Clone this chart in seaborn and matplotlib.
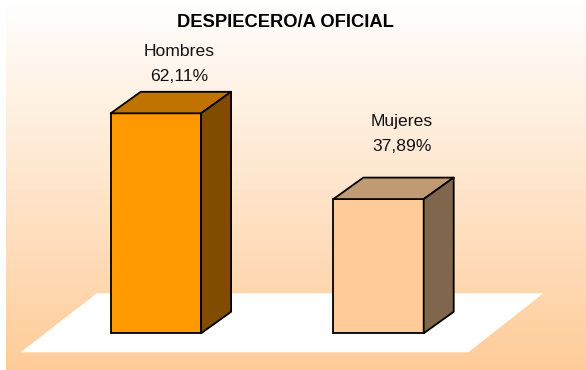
import numpy as np
import pandas as pd
import matplotlib
matplotlib.use("Agg")
import matplotlib.pyplot as plt
import seaborn as sns
from matplotlib.patches import Polygon
from matplotlib.colors import to_rgb

# ---- data ----
categories = ["Hombres", "Mujeres"]
percentages = [62.11, 37.89]
value_labels = ["62,11%", "37,89%"]
chart_title = "DESPIECERO/A OFICIAL"

# ---- styling ----
front_colors = ["#FF9900", "#FFCC99"]
top_colors = ["#C07300", "#C09A73"]
side_colors = ["#7F4C00", "#80664C"]
label_lift_px = [32, 48]          # gap between bar top and its value line

sns.set_theme(style="white")
plt.rcParams["font.family"] = ["Liberation Sans", "DejaVu Sans"]

W, H = 586, 370
fig = plt.figure(figsize=(W / 100, H / 100), dpi=100)

# vertical gradient backdrop, white fading to peach
bg = fig.add_axes([0, 0, 1, 1])
bg.set_axis_off()
c_top = np.array([1.0, 1.0, 1.0])
c_bot = np.array(to_rgb("#FFCC99"))
t = np.linspace(0, 1, H)[:, None]
grad = c_top * (1 - t) + c_bot * t
img = np.repeat(grad[:, None, :], W, axis=1)
img[:, :6] = 1.0
bg.imshow(img, extent=(0, W, H, 0), aspect="auto", interpolation="bilinear")
bg.set_xlim(0, W)
bg.set_ylim(H, 0)

# main chart axes
ax = fig.add_axes([0, 0, 1, 1])
ax.patch.set_alpha(0)

df = pd.DataFrame({"sexo": categories, "pct": percentages})
sns.barplot(data=df, x="sexo", y="pct", hue="sexo", hue_order=categories,
            order=categories, palette=front_colors, saturation=1,
            width=0.406, edgecolor="black", linewidth=1.3,
            legend=False, ax=ax, zorder=3)

ax.set_xlim(-0.7004, 1.9322)
ax.set_ylim(-10.36, 94.10)
ax.set_axis_off()

# white floor plane
floor = Polygon([(-0.6074, -5.36), (1.4034, -5.36), (1.7403, 11.29), (-0.2659, 11.29)],
                closed=True, facecolor="white", edgecolor="none", zorder=1)
ax.add_patch(floor)

# depth of the 3D columns in data units
dx, dy = 0.1348, 6.07
px_per_unit = 220 / 62.11

bars = sorted([p for p in ax.patches if p is not floor], key=lambda p: p.get_x())
for i, p in enumerate(bars):
    x0, w, h = p.get_x(), p.get_width(), p.get_height()
    top = Polygon([(x0, h), (x0 + dx, h + dy), (x0 + w + dx, h + dy), (x0 + w, h)],
                  closed=True, facecolor=top_colors[i], edgecolor="black",
                  linewidth=1.3, joinstyle="round", zorder=3)
    side = Polygon([(x0 + w, 0), (x0 + w, h), (x0 + w + dx, h + dy), (x0 + w + dx, dy)],
                   closed=True, facecolor=side_colors[i], edgecolor="black",
                   linewidth=1.3, joinstyle="round", zorder=3)
    ax.add_patch(top)
    ax.add_patch(side)

    cx = x0 + w / 2 + 0.106
    y_val = h + label_lift_px[i] / px_per_unit
    ax.text(cx, y_val, value_labels[i], ha="center", va="baseline",
            fontsize=12.6, color="#111111", zorder=5)
    ax.text(cx, y_val + 25.5 / px_per_unit, categories[i], ha="center",
            va="baseline", fontsize=12.6, color="#111111", zorder=5)

fig.text(285.8 / W, 1 - 27.3 / H, chart_title, ha="center", va="baseline",
         fontsize=13.2, fontweight="bold", color="black")

fig.savefig("out.png", dpi=100)
